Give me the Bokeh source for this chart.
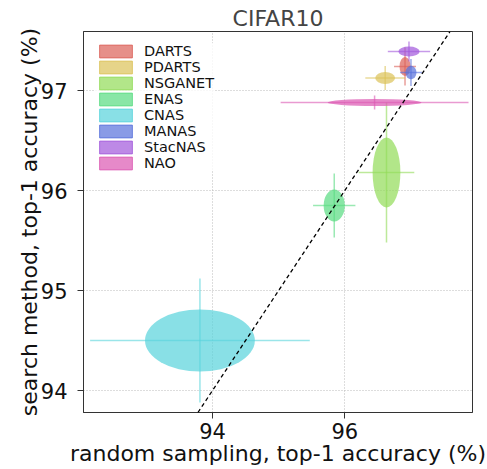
import numpy as np
from bokeh.plotting import figure
from bokeh.models import Range1d, Slope, Legend, LegendItem, FixedTicker, ColumnDataSource
from bokeh.embed import file_html
from bokeh.resources import INLINE

# ---- data ----
methods = ["DARTS", "PDARTS", "NSGANET", "ENAS", "CNAS", "MANAS", "StacNAS", "NAO"]
random_mean = [96.91, 96.61, 96.63, 95.84, 93.81, 97.00, 96.97, 96.45]
random_std = [0.083, 0.15, 0.21, 0.16, 0.83, 0.083, 0.16, 0.71]
search_mean = [97.24, 97.125, 96.18, 95.85, 94.50, 97.18, 97.39, 96.88]
search_std = [0.095, 0.06, 0.35, 0.16, 0.31, 0.067, 0.05, 0.035]
colors = ["#db5f57", "#dbc257", "#91db57", "#57db80", "#57d3db", "#5770db", "#a157db", "#db57b2"]
x_ticks = [94, 96]
y_ticks = [94, 95, 96, 97]
x_limits = (92.05, 97.93)
y_limits = (93.78, 97.59)

FONT = "DejaVu Sans"

p = figure(width=487, height=469, output_backend="svg", toolbar_location=None,
           x_range=Range1d(*x_limits), y_range=Range1d(*y_limits),
           min_border_left=83, min_border_right=15, min_border_top=31, min_border_bottom=57,
           title="CIFAR10")
p.title.align = "center"
p.title.text_font = FONT
p.title.text_font_size = "22px"
p.title.text_font_style = "normal"
p.title.standoff = 2

p.outline_line_color = "#333333"
p.outline_line_width = 1

for ax in (p.xaxis[0], p.yaxis[0]):
    ax.major_label_text_font = FONT
    ax.major_label_text_font_size = "21px"
    ax.major_label_text_color = "#111111"
    ax.axis_label_text_font = FONT
    ax.axis_label_text_font_size = "22px"
    ax.axis_label_text_font_style = "normal"
    ax.axis_label_text_color = "#111111"
    ax.minor_tick_line_color = None
    ax.major_tick_in = 0
    ax.major_tick_out = 6
    ax.major_tick_line_color = "#333333"
    ax.axis_line_color = "#333333"

p.xaxis.major_label_text_line_height = 1.0
p.xaxis.axis_label_text_line_height = 1.0
p.xaxis.ticker = FixedTicker(ticks=x_ticks)
p.yaxis.ticker = FixedTicker(ticks=y_ticks)
p.xaxis.axis_label = "random sampling, top-1 accuracy (%)"
p.yaxis.axis_label = "search method, top-1 accuracy (%)"
p.xaxis.major_label_standoff = 4
p.yaxis.major_label_standoff = 10
p.xaxis.axis_label_standoff = -1
p.yaxis.axis_label_standoff = -4

p.grid.grid_line_color = "#bbbbbb"
p.grid.grid_line_dash = "1 2"
p.grid.grid_line_width = 1

nan = float("nan")
legend_items = []
for i, name in enumerate(methods):
    src = ColumnDataSource(dict(
        x=[random_mean[i]], y=[search_mean[i]],
        w=[2 * random_std[i]], h=[2 * search_std[i]],
        x0=[random_mean[i] - 2 * random_std[i]], x1=[random_mean[i] + 2 * random_std[i]],
        y0=[search_mean[i] - 2 * search_std[i]], y1=[search_mean[i] + 2 * search_std[i]],
    ))
    p.segment(x0="x0", y0="y", x1="x1", y1="y", source=src,
              line_color=colors[i], line_alpha=0.6, line_width=1.5)
    p.segment(x0="x", y0="y0", x1="x", y1="y1", source=src,
              line_color=colors[i], line_alpha=0.6, line_width=1.5)
    p.ellipse(x="x", y="y", width="w", height="h", source=src,
              fill_color=colors[i], fill_alpha=0.7, line_color=None)
    # legend swatch: a rectangular patch renderer that draws nothing in the plot
    r = p.quad(left=[nan], right=[nan], top=[nan], bottom=[nan],
               fill_color=colors[i], fill_alpha=0.7,
               line_color=colors[i], line_alpha=0.8, line_width=1)
    legend_items.append(LegendItem(label=name, renderers=[r]))

p.add_layout(Slope(gradient=1, y_intercept=0, line_color="black",
                   line_dash="4 3", line_width=1.3))

legend = Legend(items=legend_items, location="top_left", margin=12, padding=0,
                glyph_width=41, glyph_height=16, label_height=16, spacing=0,
                label_standoff=8, label_text_font=FONT, label_text_font_size="14.5px",
                label_text_color="#111111",
                border_line_color=None, background_fill_color="white",
                background_fill_alpha=0.8)
p.add_layout(legend)

open("out.html", "w").write(file_html(p, INLINE))
